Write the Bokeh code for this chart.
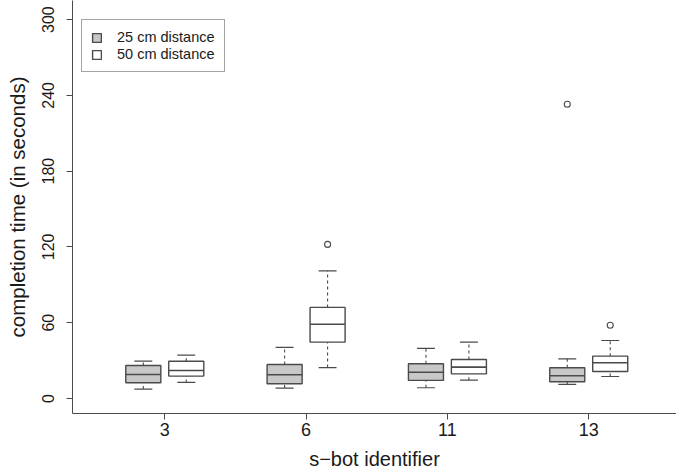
from bokeh.plotting import figure
from bokeh.models import Range1d, FixedTicker, Legend, LegendItem, ColumnDataSource
from bokeh.embed import file_html
from bokeh.resources import INLINE

# s-bot identifiers (categories)
groups = ["3", "6", "11", "13"]

# 25 cm distance: box statistics (seconds)
d25_low = [7.4, 8.2, 8.5, 11.1]
d25_q1 = [12.4, 11.6, 14.3, 13.2]
d25_med = [19.0, 18.8, 20.8, 18.0]
d25_q3 = [26.1, 26.9, 27.5, 24.3]
d25_high = [29.5, 40.4, 39.6, 31.4]
d25_out_group = ["13"]
d25_out_value = [233.0]

# 50 cm distance: box statistics (seconds)
d50_low = [12.7, 24.5, 14.5, 17.4]
d50_q1 = [17.7, 44.6, 19.5, 21.4]
d50_med = [22.2, 58.8, 24.8, 28.3]
d50_q3 = [29.5, 72.1, 30.9, 33.5]
d50_high = [34.3, 101.1, 44.6, 45.9]
d50_out_group = ["6", "13"]
d50_out_value = [122.0, 58.0]

y_ticks = [0, 60, 120, 180, 240, 300]

FONT = "Liberation Sans"
LINE = "#4a4a4a"
TEXT = "#1a1a1a"
FILL25 = "#c8c8c8"
FILL50 = "#ffffff"

OFFSET = 0.152
BOX_W = 0.248
CAP_W = 0.127

p = figure(width=676, height=474, output_backend="svg", toolbar_location=None,
           x_range=Range1d(0.347, 4.621), y_range=Range1d(-11.9, 315.1),
           min_border_left=72, min_border_bottom=61, min_border_top=0, min_border_right=0)
p.xgrid.visible = False
p.ygrid.visible = False
p.outline_line_color = None
p.background_fill_color = "white"
p.border_fill_color = "white"

pos = {g: i + 1 for i, g in enumerate(groups)}


def draw_series(low, q1, med, q3, high, out_g, out_v, off, fill):
    xs = [pos[g] + off for g in groups]
    src = ColumnDataSource(dict(x=xs, low=low, q1=q1, med=med, q3=q3, high=high))
    # whiskers (dashed)
    p.segment(x0="x", y0="q3", x1="x", y1="high", source=src, line_color=LINE,
              line_width=1.1, line_dash="3 3")
    p.segment(x0="x", y0="low", x1="x", y1="q1", source=src, line_color=LINE,
              line_width=1.1, line_dash="3 3")
    # caps
    src_c = ColumnDataSource(dict(x0=[x - CAP_W / 2 for x in xs], x1=[x + CAP_W / 2 for x in xs],
                                  low=low, high=high))
    p.segment(x0="x0", y0="high", x1="x1", y1="high", source=src_c, line_color=LINE, line_width=1.2)
    p.segment(x0="x0", y0="low", x1="x1", y1="low", source=src_c, line_color=LINE, line_width=1.2)
    # boxes
    r = p.vbar(x="x", width=BOX_W, bottom="q1", top="q3", source=src, fill_color=fill,
               line_color=LINE, line_width=1.4)
    # medians
    src_m = ColumnDataSource(dict(x0=[x - BOX_W / 2 for x in xs], x1=[x + BOX_W / 2 for x in xs], med=med))
    p.segment(x0="x0", y0="med", x1="x1", y1="med", source=src_m, line_color=LINE, line_width=1.6)
    # outliers
    src_o = ColumnDataSource(dict(x=[pos[g] + off for g in out_g], y=out_v))
    p.scatter(x="x", y="y", source=src_o, marker="circle", size=6, fill_color=None,
              line_color=LINE, line_width=1.1)
    return r


r25 = draw_series(d25_low, d25_q1, d25_med, d25_q3, d25_high, d25_out_group, d25_out_value, -OFFSET, FILL25)
r50 = draw_series(d50_low, d50_q1, d50_med, d50_q3, d50_high, d50_out_group, d50_out_value, OFFSET, FILL50)

# axes
xa = p.xaxis[0]
xa.ticker = FixedTicker(ticks=[pos[g] for g in groups])
xa.major_label_overrides = {pos[g]: g for g in groups}
xa.axis_label = "s\u2212bot identifier"
ya = p.yaxis[0]
ya.ticker = FixedTicker(ticks=y_ticks)
ya.axis_label = "completion time (in seconds)"
ya.major_label_orientation = "vertical"

for ax in (xa, ya):
    ax.axis_line_color = LINE
    ax.major_tick_line_color = LINE
    ax.major_tick_out = 6
    ax.major_tick_in = 0
    ax.minor_tick_out = 0
    ax.minor_tick_in = 0
    ax.major_label_text_font = FONT
    ax.major_label_text_color = TEXT
    ax.axis_label_text_font = FONT
    ax.axis_label_text_color = TEXT
    ax.axis_label_text_font_style = "normal"

xa.axis_label_text_font_size = "20px"
xa.major_label_text_font_size = "18px"
xa.major_label_standoff = 3
xa.axis_label_standoff = 9
ya.axis_label_text_font_size = "20.5px"
ya.major_label_text_font_size = "16px"
ya.major_label_standoff = 12
ya.axis_label_standoff = 11

legend = Legend(items=[LegendItem(label="25 cm distance", renderers=[r25]),
                       LegendItem(label="50 cm distance", renderers=[r50])],
                location=(9, 341))
legend.label_text_font = FONT
legend.label_text_font_size = "14.5px"
legend.label_text_color = TEXT
legend.glyph_width = 11
legend.glyph_height = 11
legend.label_standoff = 15
legend.padding = 9
legend.spacing = 1
legend.margin = 0
legend.border_line_color = LINE
legend.border_line_width = 1
legend.background_fill_alpha = 1
p.add_layout(legend, "center")

open("out.html", "w").write(file_html(p, INLINE))
